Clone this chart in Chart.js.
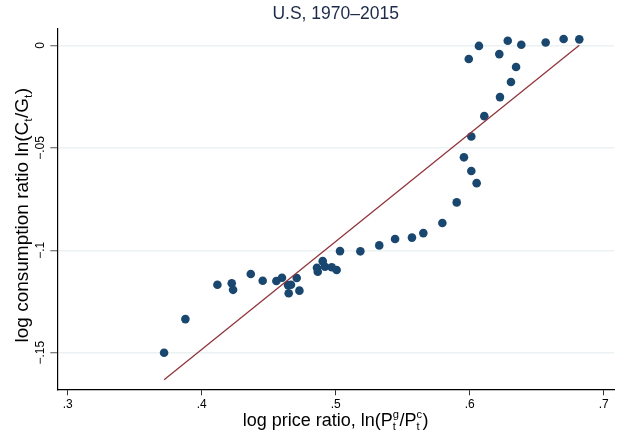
<!DOCTYPE html>
<html><head><meta charset="utf-8">
<script src="https://cdn.jsdelivr.net/npm/chart.js@4/dist/chart.umd.min.js"></script>
<style>html,body{margin:0;padding:0;background:#fff;} #wrap{width:624px;height:432px;}</style>
</head><body><div id="wrap"><canvas id="c" width="624" height="432"></canvas></div>
<script>
// ---- data ----
const priceRatio = [0.3719,0.3878,0.4117,0.4224,0.4234,0.4366,0.4455,0.4557,0.4599,0.4644,0.4666,0.4649,0.4709,0.4729,
  0.4860,0.4866,0.4903,0.4920,0.4970,0.5007,0.5032,0.5184,0.5325,0.5443,0.5569,0.5654,0.5796,0.5903,0.6052,0.6012,
  0.5957,0.6012,0.6109,0.6226,0.6308,0.6346,0.6221,0.5993,0.6069,0.6284,0.6385,0.6567,0.6701,0.6818];
const consRatio = [-0.1500,-0.1336,-0.1168,-0.1161,-0.1193,-0.1116,-0.1149,-0.1150,-0.1134,-0.1170,-0.1168,-0.1210,-0.1135,-0.1197,
  -0.1085,-0.1105,-0.1053,-0.1080,-0.1083,-0.1096,-0.1004,-0.1005,-0.0976,-0.0945,-0.0938,-0.0916,-0.0867,-0.0766,-0.0672,-0.0613,
  -0.0546,-0.0444,-0.0345,-0.0252,-0.0178,-0.0105,-0.0042,-0.0066,-0.0002,0.0023,0.0004,0.0015,0.0032,0.0030];
const fitX = [0.3719, 0.6818];
const fitY = [-0.1632, 0.0001];
const xTicks = [0.3, 0.4, 0.5, 0.6, 0.7];
const xTickLabels = ['.3', '.4', '.5', '.6', '.7'];
const yTicks = [-0.15, -0.1, -0.05, 0];
const yTickLabels = ['\u2212.15', '\u2212.1', '\u2212.05', '0'];
const titleText = 'U.S, 1970\u20132015';
const xTitleParts = [{t:'log price ratio, ln(P'}, {sup:'g', sub:'t'}, {t:'/P'}, {sup:'c', sub:'t'}, {t:')'}];
const yTitleParts = [{t:'log consumption ratio ln(C'}, {sub:'t'}, {t:'/G'}, {sub:'t'}, {t:')'}];

const FONT = "'Liberation Sans', Arial, sans-serif";

function richWidth(ctx, parts, size) {
  let w = 0;
  parts.forEach(p => {
    if (p.t !== undefined) { ctx.font = size + 'px ' + FONT; w += ctx.measureText(p.t).width; }
    else {
      ctx.font = (size * 0.62) + 'px ' + FONT;
      const a = p.sup ? ctx.measureText(p.sup).width : 0;
      const b = p.sub ? ctx.measureText(p.sub).width : 0;
      w += Math.max(a, b) + 0.5;
    }
  });
  return w;
}
function drawRich(ctx, parts, size) {
  const w = richWidth(ctx, parts, size);
  let x = -w / 2;
  ctx.textBaseline = 'alphabetic';
  ctx.textAlign = 'left';
  parts.forEach(p => {
    if (p.t !== undefined) {
      ctx.font = size + 'px ' + FONT;
      ctx.fillText(p.t, x, 0);
      x += ctx.measureText(p.t).width;
    } else {
      ctx.font = (size * 0.62) + 'px ' + FONT;
      let a = 0, b = 0;
      if (p.sup) { ctx.fillText(p.sup, x, -size * 0.42); a = ctx.measureText(p.sup).width; }
      if (p.sub) { ctx.fillText(p.sub, x, size * 0.22); b = ctx.measureText(p.sub).width; }
      x += Math.max(a, b) + 0.5;
    }
  });
}

const axisTitlePlugin = {
  id: 'axisTitles',
  afterDraw(chart) {
    const ctx = chart.ctx;
    const ca = chart.chartArea;
    ctx.save();
    ctx.fillStyle = '#000';
    ctx.save();
    ctx.translate((ca.left + ca.right) / 2, chart.scales.x.bottom - 6.3);
    drawRich(ctx, xTitleParts, 18);
    ctx.restore();
    ctx.save();
    ctx.translate(chart.scales.y.left + 28, (ca.top + ca.bottom) / 2 + 6);
    ctx.rotate(-Math.PI / 2);
    drawRich(ctx, yTitleParts, 19);
    ctx.restore();
    ctx.restore();
  }
};

new Chart(document.getElementById('c'), {
  data: {
    datasets: [
      {
        type: 'line',
        data: fitX.map((x, i) => ({x: x, y: fitY[i]})),
        borderColor: '#90353b',
        borderWidth: 1.3,
        pointRadius: 0,
        fill: false,
        order: 0
      },
      {
        type: 'scatter',
        data: priceRatio.map((x, i) => ({x: x, y: consRatio[i]})),
        backgroundColor: '#1a476f',
        borderColor: '#1a476f',
        borderWidth: 0,
        pointRadius: 4.3,
        order: 1
      }
    ]
  },
  options: {
    responsive: false,
    animation: false,
    events: [],
    layout: {padding: {left: 0, right: 10, top: 0, bottom: 0}},
    plugins: {
      legend: {display: false},
      tooltip: {enabled: false},
      title: {
        display: true,
        fullSize: false,
        text: titleText,
        color: '#1c2a4a',
        font: {family: FONT, size: 17.5, weight: 'normal', lineHeight: 1.2},
        padding: {top: 4.1, bottom: 3.9}
      }
    },
    scales: {
      x: {
        type: 'linear',
        position: 'bottom',
        min: 0.2922,
        max: 0.7077,
        afterBuildTicks: s => { s.ticks = xTicks.map(v => ({value: v})); },
        afterFit: s => { s.height = 42.7; },
        ticks: {
          callback: (v, i) => xTickLabels[i],
          color: '#000',
          font: {family: FONT, size: 12},
          padding: 2,
          maxRotation: 0,
          minRotation: 0
        },
        grid: {drawOnChartArea: false, drawTicks: true, tickLength: 6, tickColor: '#333', tickWidth: 1},
        border: {display: true, color: '#000', width: 1.2}
      },
      y: {
        type: 'linear',
        position: 'left',
        min: -0.16787,
        max: 0.00806,
        afterBuildTicks: s => { s.ticks = yTicks.map(v => ({value: v})); },
        afterFit: s => { s.width = 57.3; },
        ticks: {
          callback: (v, i) => yTickLabels[i],
          color: '#000',
          font: {family: FONT, size: 12},
          padding: -2.7,
          minRotation: 90,
          maxRotation: 90,
          crossAlign: 'center'
        },
        grid: {drawOnChartArea: true, color: '#eaf2f3', lineWidth: 1.5, drawTicks: true, tickLength: 7, tickColor: '#555', tickWidth: 1},
        border: {display: true, color: '#000', width: 1.2}
      }
    }
  },
  plugins: [axisTitlePlugin]
});
</script>
</body></html>
